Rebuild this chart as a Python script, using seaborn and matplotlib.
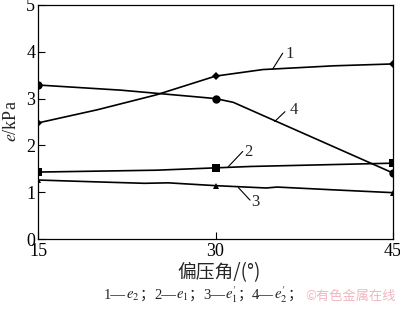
import matplotlib
matplotlib.use("Agg")
import matplotlib.pyplot as plt
import seaborn as sns
import pandas as pd

# ---- data ----
x1 = [15, 20, 25, 30, 34, 40, 45]
e2 = [2.48, 2.76, 3.08, 3.48, 3.62, 3.70, 3.74]          # 1 — e2
x2 = [15, 25, 30, 33, 45]
e1 = [1.43, 1.47, 1.52, 1.55, 1.62]                        # 2 — e1
x3 = [15, 20, 24, 26, 30, 34.3, 35.2, 40, 45]
e1p = [1.26, 1.22, 1.19, 1.20, 1.14, 1.09, 1.11, 1.05, 0.99]  # 3 — e1'
x4 = [15, 22, 28.7, 30, 31.5, 45]
e2p = [3.29, 3.18, 3.03, 3.00, 2.92, 1.41]                 # 4 — e2'
mark_x = [15, 30, 45]
xticks = [15, 30, 45]
yticks = [0, 1, 2, 3, 4, 5]

sns.set_theme(style="ticks")
plt.rcParams['font.family'] = ['Liberation Serif', 'Noto Sans CJK SC']
plt.rcParams['mathtext.fontset'] = 'stix'

fig = plt.figure(figsize=(4.0, 3.1), dpi=100)
ax = fig.add_axes([0.095, 0.229, 0.8875, 0.755])

series = [(x1, e2, 'D', 4.0), (x2, e1, 's', 5.5), (x3, e1p, '^', 5.0), (x4, e2p, 'o', 6.0)]
for xs, ys, mk, ms in series:
    df = pd.DataFrame({'x': xs, 'y': ys})
    sns.lineplot(data=df, x='x', y='y', ax=ax, color='black', lw=1.2, sort=True)
    dm = df[df['x'].isin(mark_x)]
    sns.lineplot(data=dm, x='x', y='y', ax=ax, color='black', lw=0,
                 marker=mk, markersize=ms, markeredgewidth=0)

# annotations with leader lines
ann = [("1", (34.83, 3.63), (35.68, 3.97), (36.3, 3.95)),
       ("2", (31.08, 1.545), (32.3, 1.87), (32.8, 1.85)),
       ("3", (31.93, 1.10), (32.92, 0.83), (33.35, 0.80)),
       ("4", (35.0, 2.51), (35.87, 2.72), (36.6, 2.76))]
for lab, p0, p1, pt in ann:
    ax.plot([p0[0], p1[0]], [p0[1], p1[1]], color='black', lw=0.8)
    ax.text(pt[0], pt[1], lab, fontsize=12, ha='center', va='center')

ax.set_xlim(15, 45)
ax.set_ylim(0, 5)
ax.set_xticks(xticks)
ax.set_yticks(yticks)
ax.tick_params(direction='in', length=5, width=0.8, labelsize=13, pad=3,
               top=False, right=False, colors='black')
ax.tick_params(axis='y', pad=2)
for s in ax.spines.values():
    s.set_visible(True)
    s.set_linewidth(0.9)
    s.set_color('black')
ax.set_xlabel('')
ax.set_ylabel('')

fig.text(0.028, 0.61, r'$e$/kPa', rotation=90, fontsize=13, ha='center', va='center')
fig.text(0.548, 0.12, '偏压角/(°)', fontsize=13.5, ha='center', va='center',
         family=['Noto Sans CJK SC', 'DejaVu Sans'])

# footer caption assembled from pieces (math parts + CJK semicolons)
pieces = ["1—", r"$e_2$", "；", "2—", r"$e_1$", "；", "3—", r"$e_1'$", "；",
          "4—", r"$e_2'$", "；"]
renderer = fig.canvas.get_renderer()
xpix = 104.0
ybase = 0.035
for p in pieces:
    fam = ['Noto Sans CJK SC', 'DejaVu Sans'] if p == "；" else ['Liberation Serif', 'Noto Sans CJK SC']
    t = fig.text(xpix / 400.0, ybase, p, fontsize=10.5, ha='left', va='baseline',
                 family=fam)
    bb = t.get_window_extent(renderer=renderer)
    xpix = bb.x1

fig.text(0.875, 0.042, '©有色金属在线', fontsize=9.5, ha='center', va='center',
         color='#f2b6c0', family=['Noto Sans CJK SC', 'DejaVu Sans'])

fig.savefig('out.png', dpi=100)
